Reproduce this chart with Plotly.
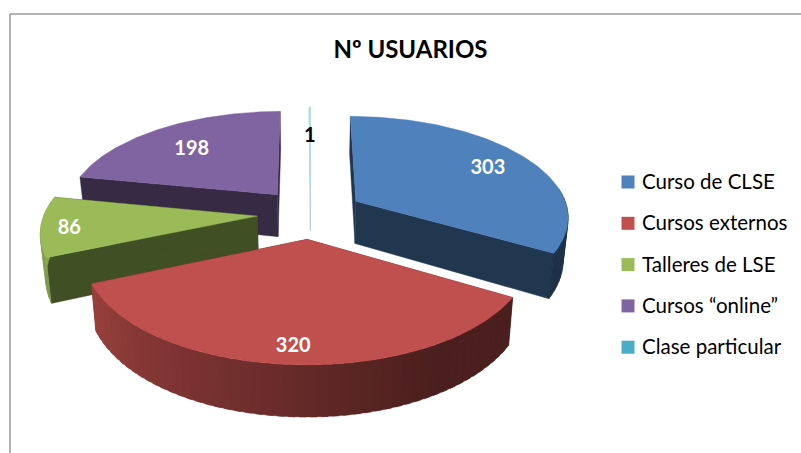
import math
import plotly.graph_objects as go

# Data
categories = ["Curso de CLSE", "Cursos externos", "Talleres de LSE", "Cursos “online”", "Clase particular"]
values = [303, 320, 86, 198, 1]

# Style
colors = ["#4f81bd", "#c0504d", "#9bbb59", "#8064a2", "#4bacc6"]
label_colors = ["white", "white", "white", "white", "black"]
label_radius = [0.78, 0.85, 0.87, 0.715, 0.65]
paint_order = [4, 3, 2, 0, 1]
FONT = "Lato, Carlito, Calibri, sans-serif"

# Projection parameters for the tilted, exploded pie
CX, CY, RX, RY, PERSP = 310.5, 213.5, 213, 100, 0.14
EXPLODE, DEPTH, SHRINK = 0.25, 43, 0.98
BAND = 2.5
LABEL_DY = 3.5

# Legend placement
LEG_MARK_X, LEG_TEXT_X, LEG_TOP, LEG_STEP = 628, 642, 182, 41.3
LEG_TEXT_DY = 2.0


def project(u, v, lower=False):
    s = 1 / (1 + PERSP * v)
    x = CX + RX * u * s
    y = CY - RY * v * s
    if lower:
        x = CX + (x - CX) * SHRINK
        y = y + DEPTH * s
    return x, y


def shade(hex_color, f):
    r, g, b = (int(hex_color[i:i + 2], 16) for i in (1, 3, 5))
    return f"rgb({r * f:.0f},{g * f:.0f},{b * f:.0f})"


def side_factor(deg):
    if deg <= 150:
        return 0.39
    return 0.39 + 0.51 * min(deg - 150, 120) / 120


def poly(points, color, width=0.4):
    xs = [p[0] for p in points] + [points[0][0]]
    ys = [p[1] for p in points] + [points[0][1]]
    return go.Scatter(x=xs, y=ys, mode="lines", fill="toself", fillcolor=color,
                      line=dict(color=color, width=width), hoverinfo="skip", showlegend=False)


total = sum(values)
ranges = []
acc = 0.0
for val in values:
    ranges.append((acc, acc + val / total * 360))
    acc += val / total * 360

fig = go.Figure()
label_x, label_y = [], []
centres = {}

for i in paint_order:
    a0, a1 = ranges[i]
    mid = math.radians((a0 + a1) / 2)
    ou = EXPLODE * math.sin(mid)
    ov = EXPLODE * math.cos(mid)
    centres[i] = (ou, ov, mid)
    n = max(2, int((a1 - a0) / 1.0))
    arc = [(ou + math.sin(math.radians(a0 + (a1 - a0) * k / n)),
            ov + math.cos(math.radians(a0 + (a1 - a0) * k / n))) for k in range(n + 1)]
    thin = (a1 - a0) < 2
    edge = 0.5 if thin else 0.4
    dark = "#b4ccd3" if thin else shade(colors[i], 0.42)
    face = "#a8dcea" if thin else colors[i]
    # radial walls
    for end in (arc[0], arc[-1]):
        fig.add_trace(poly([project(ou, ov), project(*end), project(*end, lower=True),
                            project(ou, ov, lower=True)], dark, edge))
    # outer curved side, in shaded bands; each band overlaps the next so no seams show
    start = a0
    while start < a1 - 1e-9:
        stop = min(start + BAND, a1)
        m = (start + stop) / 2
        if math.cos(math.radians(m)) < 0.15:
            far = min(stop + 1.5, a1)
            pts = []
            for k in range(5):
                t = math.radians(start + (far - start) * k / 4)
                pts.append((ou + math.sin(t), ov + math.cos(t)))
            top = [project(*p) for p in pts]
            bot = [project(*p, lower=True) for p in reversed(pts)]
            fig.add_trace(poly(top + bot, shade(colors[i], side_factor(m))))
        start = stop
    # top face
    fig.add_trace(poly([project(ou, ov)] + [project(*p) for p in arc], face, edge))

for i in range(len(values)):
    ou, ov, mid = centres[i]
    x, y = project(ou + label_radius[i] * math.sin(mid), ov + label_radius[i] * math.cos(mid))
    label_x.append(x)
    label_y.append(y + LABEL_DY)

fig.add_trace(go.Scatter(
    x=label_x, y=label_y, mode="text", text=[str(v) for v in values],
    textposition="middle center", hoverinfo="skip", showlegend=False,
    textfont=dict(family=FONT, size=20, color=label_colors, weight="bold")))

# Legend keys and names
leg_y = [LEG_TOP + k * LEG_STEP for k in range(len(categories))]
fig.add_trace(go.Scatter(
    x=[LEG_MARK_X] * len(categories), y=leg_y, mode="markers", hoverinfo="skip", showlegend=False,
    marker=dict(symbol="square", size=13, color=colors, line=dict(width=0))))
fig.add_trace(go.Scatter(
    x=[LEG_TEXT_X] * len(categories), y=[v + LEG_TEXT_DY for v in leg_y], mode="text", text=categories,
    textposition="middle right", hoverinfo="skip", showlegend=False,
    textfont=dict(family=FONT, size=20.5, color="black")))

fig.update_layout(
    width=801, height=453, margin=dict(l=0, r=0, t=0, b=0), showlegend=False,
    plot_bgcolor="white", paper_bgcolor="white",
    xaxis=dict(range=[0, 801], visible=False, fixedrange=True),
    yaxis=dict(range=[453, 0], visible=False, fixedrange=True),
    title=dict(text="Nº USUARIOS", x=410.5 / 801, xanchor="center", y=1 - 50 / 453, yanchor="middle",
               font=dict(family=FONT, size=24, color="black", weight="bold")),
    shapes=[
        dict(type="line", xref="x", yref="y", x0=10, x1=10, y0=14, y1=453,
             line=dict(color="#9a9a9a", width=1.5)),
        dict(type="line", xref="x", yref="y", x0=10, x1=801, y0=14, y1=14,
             line=dict(color="#9a9a9a", width=1.5)),
    ],
)

fig.write_html("out.html", config=dict(displayModeBar=False),
               post_script="document.body.style.margin='0';document.body.style.overflow='hidden';")
